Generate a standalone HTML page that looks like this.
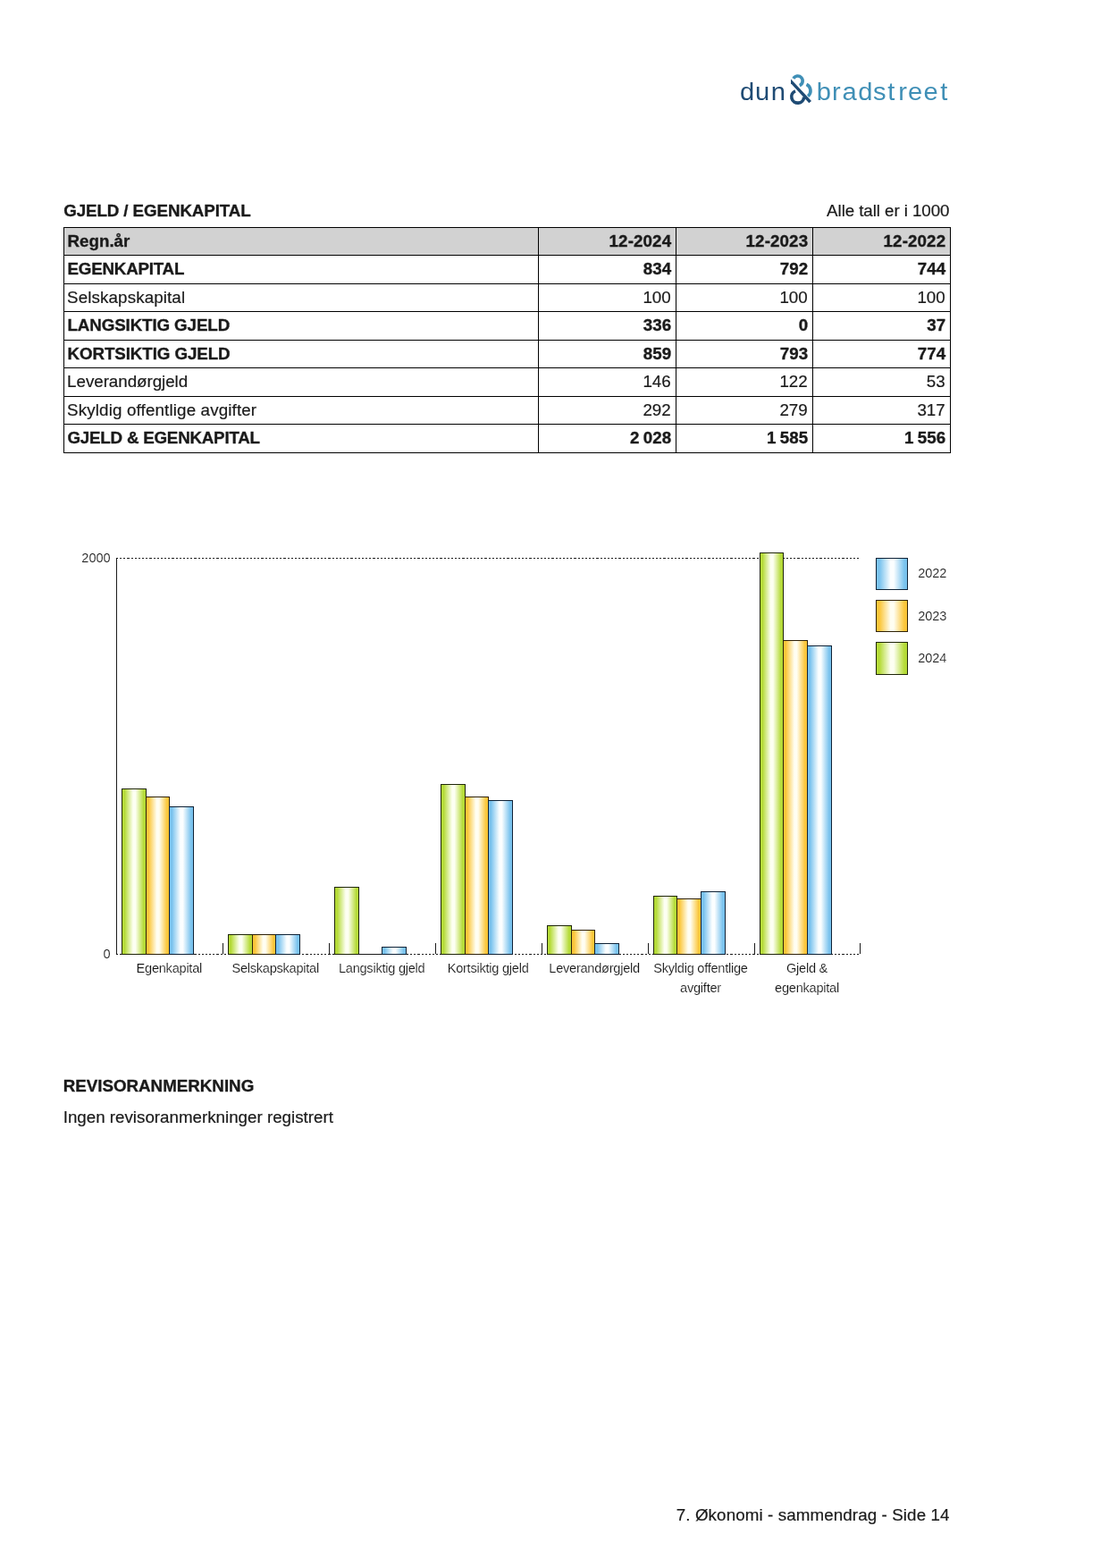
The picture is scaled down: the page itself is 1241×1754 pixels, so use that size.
<!DOCTYPE html>
<html lang="no">
<head>
<meta charset="utf-8">
<title>Gjeld / Egenkapital</title>
<style>
html,body{margin:0;padding:0;background:#fff;}
body{width:1241px;height:1754px;position:relative;overflow:hidden;font-family:"Liberation Sans",sans-serif;color:#1a1a1a;}
h1,h2,p,table,tbody,tr,td,th{margin:0;padding:0;border:0;display:block;font-weight:normal;font-size:inherit;text-align:left;}
.t{position:absolute;white-space:nowrap;font-size:18.75px;line-height:22px;height:22px;-webkit-text-stroke:0.2px #1a1a1a;}
.b{font-weight:bold;-webkit-text-stroke:0.35px #1a1a1a;}
.n{text-align:right;}
.hl{position:absolute;height:1px;background:#000;left:71px;width:993px;}
.vl{position:absolute;width:1px;background:#000;top:254px;height:253px;}
.hd{position:absolute;left:71px;top:254px;width:993px;height:32px;background:#d2d2d2;}
svg{position:absolute;left:0;top:0;overflow:visible;}
.ax{font-size:14.58px;fill:#151515;stroke:#fff;stroke-width:0.15px;font-family:"Liberation Sans",sans-serif;letter-spacing:-0.25px;}
.dg{letter-spacing:-0.05px;}
</style>
</head>
<body>
<h2 class="t b" style="left:71.20px;top:224.50px;letter-spacing:-0.09px;">GJELD / EGENKAPITAL</h2>
<p class="t n" style="right:178.60px;top:224.50px;letter-spacing:-0.07px;">Alle tall er i 1000</p>
<div class="hd"></div>
<div class="hl" style="top:254px"></div>
<div class="hl" style="top:285px"></div>
<div class="hl" style="top:317px"></div>
<div class="hl" style="top:348px"></div>
<div class="hl" style="top:380px"></div>
<div class="hl" style="top:411px"></div>
<div class="hl" style="top:443px"></div>
<div class="hl" style="top:474px"></div>
<div class="hl" style="top:506px"></div>
<div class="vl" style="left:71px"></div>
<div class="vl" style="left:602px"></div>
<div class="vl" style="left:756px"></div>
<div class="vl" style="left:909px"></div>
<div class="vl" style="left:1063px"></div>
<table>
<tbody>
<tr>
<th class="t b" style="left:75.50px;top:258.50px;">Regn.år</th>
<th class="t b n" style="right:489.90px;top:258.50px;letter-spacing:0.12px;margin-right:-0.12px;">12-2024</th>
<th class="t b n" style="right:336.90px;top:258.50px;letter-spacing:0.12px;margin-right:-0.12px;">12-2023</th>
<th class="t b n" style="right:182.90px;top:258.50px;letter-spacing:0.12px;margin-right:-0.12px;">12-2022</th>
</tr>
<tr>
<td class="t b" style="left:75.50px;top:289.50px;letter-spacing:-0.21px;">EGENKAPITAL</td>
<td class="t b n" style="right:489.90px;top:289.50px;">834</td>
<td class="t b n" style="right:336.90px;top:289.50px;">792</td>
<td class="t b n" style="right:182.90px;top:289.50px;">744</td>
</tr>
<tr>
<td class="t" style="left:75.10px;top:321.50px;letter-spacing:0.12px;">Selskapskapital</td>
<td class="t n" style="right:490.30px;top:321.50px;">100</td>
<td class="t n" style="right:337.30px;top:321.50px;">100</td>
<td class="t n" style="right:183.30px;top:321.50px;">100</td>
</tr>
<tr>
<td class="t b" style="left:75.50px;top:352.50px;letter-spacing:-0.11px;">LANGSIKTIG GJELD</td>
<td class="t b n" style="right:489.90px;top:352.50px;">336</td>
<td class="t b n" style="right:336.90px;top:352.50px;">0</td>
<td class="t b n" style="right:182.90px;top:352.50px;">37</td>
</tr>
<tr>
<td class="t b" style="left:75.50px;top:384.50px;letter-spacing:-0.08px;">KORTSIKTIG GJELD</td>
<td class="t b n" style="right:489.90px;top:384.50px;">859</td>
<td class="t b n" style="right:336.90px;top:384.50px;">793</td>
<td class="t b n" style="right:182.90px;top:384.50px;">774</td>
</tr>
<tr>
<td class="t" style="left:75.10px;top:415.50px;letter-spacing:-0.03px;">Leverandørgjeld</td>
<td class="t n" style="right:490.30px;top:415.50px;">146</td>
<td class="t n" style="right:337.30px;top:415.50px;">122</td>
<td class="t n" style="right:183.30px;top:415.50px;">53</td>
</tr>
<tr>
<td class="t" style="left:75.10px;top:447.50px;letter-spacing:0.15px;">Skyldig offentlige avgifter</td>
<td class="t n" style="right:490.30px;top:447.50px;">292</td>
<td class="t n" style="right:337.30px;top:447.50px;">279</td>
<td class="t n" style="right:183.30px;top:447.50px;">317</td>
</tr>
<tr>
<td class="t b" style="left:75.50px;top:478.50px;letter-spacing:-0.22px;">GJELD &amp; EGENKAPITAL</td>
<td class="t b n" style="right:489.90px;top:478.50px;word-spacing:-0.8px;">2 028</td>
<td class="t b n" style="right:336.90px;top:478.50px;word-spacing:-0.8px;">1 585</td>
<td class="t b n" style="right:182.90px;top:478.50px;word-spacing:-0.8px;">1 556</td>
</tr>
</tbody>
</table>
<h2 class="t b" style="left:70.70px;top:1203.50px;">REVISORANMERKNING</h2>
<p class="t" style="left:70.70px;top:1238.50px;">Ingen revisoranmerkninger registrert</p>
<p class="t n" style="right:178.40px;top:1683.50px;letter-spacing:0.11px;">7. Økonomi - sammendrag - Side 14</p>
<svg width="1241" height="1754" viewBox="0 0 1241 1754">
<defs>
<linearGradient id="gg" x1="0" x2="1" y1="0" y2="0"><stop offset="0" stop-color="#b5db38"/><stop offset="0.11" stop-color="#b5db38"/><stop offset="0.46" stop-color="#fdfff2"/><stop offset="0.56" stop-color="#fdfff2"/><stop offset="0.9" stop-color="#b5db38"/><stop offset="1" stop-color="#b5db38"/></linearGradient>
<linearGradient id="go" x1="0" x2="1" y1="0" y2="0"><stop offset="0" stop-color="#fbc63a"/><stop offset="0.11" stop-color="#fbc63a"/><stop offset="0.46" stop-color="#fffef2"/><stop offset="0.56" stop-color="#fffef2"/><stop offset="0.9" stop-color="#fbc63a"/><stop offset="1" stop-color="#fbc63a"/></linearGradient>
<linearGradient id="gb" x1="0" x2="1" y1="0" y2="0"><stop offset="0" stop-color="#7ac3ee"/><stop offset="0.11" stop-color="#7ac3ee"/><stop offset="0.46" stop-color="#fbfeff"/><stop offset="0.56" stop-color="#fbfeff"/><stop offset="0.9" stop-color="#7ac3ee"/><stop offset="1" stop-color="#7ac3ee"/></linearGradient>
</defs>
<g shape-rendering="crispEdges" stroke="#1a1a1a" stroke-width="1" fill="none">
<path d="M130 624.5H962" stroke-dasharray="2.0833 2.0833"/>
<path d="M130 1067.5H962" stroke-dasharray="2.0833 2.0833"/>
<path d="M130.5 624V1068"/>
<path d="M249.5 1055V1067"/>
<path d="M368.5 1055V1067"/>
<path d="M487.5 1055V1067"/>
<path d="M606.5 1055V1067"/>
<path d="M725.5 1055V1067"/>
<path d="M844.5 1055V1067"/>
<path d="M962.5 1055V1067"/>
</g>
<rect x="136.5" y="882.5" width="27" height="185" fill="url(#gg)" stroke="#1f2609" stroke-width="1"/>
<rect x="163.5" y="891.5" width="26" height="176" fill="url(#go)" stroke="#2e2108" stroke-width="1"/>
<rect x="189.5" y="902.5" width="27" height="165" fill="url(#gb)" stroke="#0f2236" stroke-width="1"/>
<text class="ax" x="189.3" y="1088" text-anchor="middle">Egenkapital</text>
<rect x="255.5" y="1045.5" width="27" height="22" fill="url(#gg)" stroke="#1f2609" stroke-width="1"/>
<rect x="282.5" y="1045.5" width="26" height="22" fill="url(#go)" stroke="#2e2108" stroke-width="1"/>
<rect x="308.5" y="1045.5" width="27" height="22" fill="url(#gb)" stroke="#0f2236" stroke-width="1"/>
<text class="ax" x="308.2" y="1088" text-anchor="middle">Selskapskapital</text>
<rect x="374.5" y="992.5" width="27" height="75" fill="url(#gg)" stroke="#1f2609" stroke-width="1"/>
<path d="M401 1067.5H428" stroke="#1a1a1a" stroke-width="1" shape-rendering="crispEdges"/>
<rect x="427.5" y="1059.5" width="27" height="8" fill="url(#gb)" stroke="#0f2236" stroke-width="1"/>
<text class="ax" x="427.2" y="1088" text-anchor="middle">Langsiktig gjeld</text>
<rect x="493.5" y="877.5" width="27" height="190" fill="url(#gg)" stroke="#1f2609" stroke-width="1"/>
<rect x="520.5" y="891.5" width="26" height="176" fill="url(#go)" stroke="#2e2108" stroke-width="1"/>
<rect x="546.5" y="895.5" width="27" height="172" fill="url(#gb)" stroke="#0f2236" stroke-width="1"/>
<text class="ax" x="546.1" y="1088" text-anchor="middle">Kortsiktig gjeld</text>
<rect x="612.5" y="1035.5" width="27" height="32" fill="url(#gg)" stroke="#1f2609" stroke-width="1"/>
<rect x="639.5" y="1040.5" width="26" height="27" fill="url(#go)" stroke="#2e2108" stroke-width="1"/>
<rect x="665.5" y="1055.5" width="27" height="12" fill="url(#gb)" stroke="#0f2236" stroke-width="1"/>
<text class="ax" x="665.1" y="1088" text-anchor="middle">Leverandørgjeld</text>
<rect x="731.5" y="1002.5" width="26" height="65" fill="url(#gg)" stroke="#1f2609" stroke-width="1"/>
<rect x="757.5" y="1005.5" width="27" height="62" fill="url(#go)" stroke="#2e2108" stroke-width="1"/>
<rect x="784.5" y="997.5" width="27" height="70" fill="url(#gb)" stroke="#0f2236" stroke-width="1"/>
<text class="ax" x="784.0" y="1088" text-anchor="middle">Skyldig offentlige</text>
<text class="ax" x="784.0" y="1110" text-anchor="middle">avgifter</text>
<rect x="850.5" y="618.5" width="26" height="449" fill="url(#gg)" stroke="#1f2609" stroke-width="1"/>
<rect x="876.5" y="716.5" width="27" height="351" fill="url(#go)" stroke="#2e2108" stroke-width="1"/>
<rect x="903.5" y="722.5" width="27" height="345" fill="url(#gb)" stroke="#0f2236" stroke-width="1"/>
<text class="ax" x="903.0" y="1088" text-anchor="middle">Gjeld &amp;</text>
<text class="ax" x="903.0" y="1110" text-anchor="middle">egenkapital</text>
<text class="ax dg" x="123.6" y="629" text-anchor="end">2000</text>
<text class="ax dg" x="123.6" y="1072" text-anchor="end">0</text>
<rect x="980.5" y="624.5" width="35" height="35" fill="url(#gb)" stroke="#0f2236" stroke-width="1"/>
<text class="ax dg" x="1027.2" y="645.7">2022</text>
<rect x="980.5" y="671.5" width="35" height="35" fill="url(#go)" stroke="#2e2108" stroke-width="1"/>
<text class="ax dg" x="1027.2" y="693.6">2023</text>
<rect x="980.5" y="718.5" width="35" height="36" fill="url(#gg)" stroke="#1f2609" stroke-width="1"/>
<text class="ax dg" x="1027.2" y="740.7">2024</text>
</svg>
<svg width="1241" height="160" viewBox="0 0 1241 160" role="img" aria-label="dun &amp; bradstreet">
<text x="752.79 768.24 784.25" y="108.45" transform="scale(1.1 1.03)" font-family="Liberation Sans, sans-serif" font-size="26.5" fill="#1f4b74">dun</text>
<text x="830.65 846.29 856.84 872.97 888.17 903.03 913.79 923.61 939.57 956.49" y="108.45" transform="scale(1.1 1.03)" font-family="Liberation Sans, sans-serif" font-size="26.5" fill="#3f8fb6">bradstreet</text>
<g fill="none" stroke-width="3.6">
<path d="M887.93 87.86A5.45 5.45 0 1 1 894.74 95.55" stroke="#3f8fb6"/>
<path d="M902.51 94.31A8.0 8.0 0 0 1 904.14 107.63" stroke="#3f8fb6"/>
<path d="M889.98 101.80A6.95 6.95 0 1 0 899.65 108.44" stroke="#1f4b74"/>
<path d="M885.0 88.6V93.2L905.3 115.2L908.0 113.0Z" fill="#1f4b74" stroke="none"/>
</g>
</svg>
</body>
</html>
